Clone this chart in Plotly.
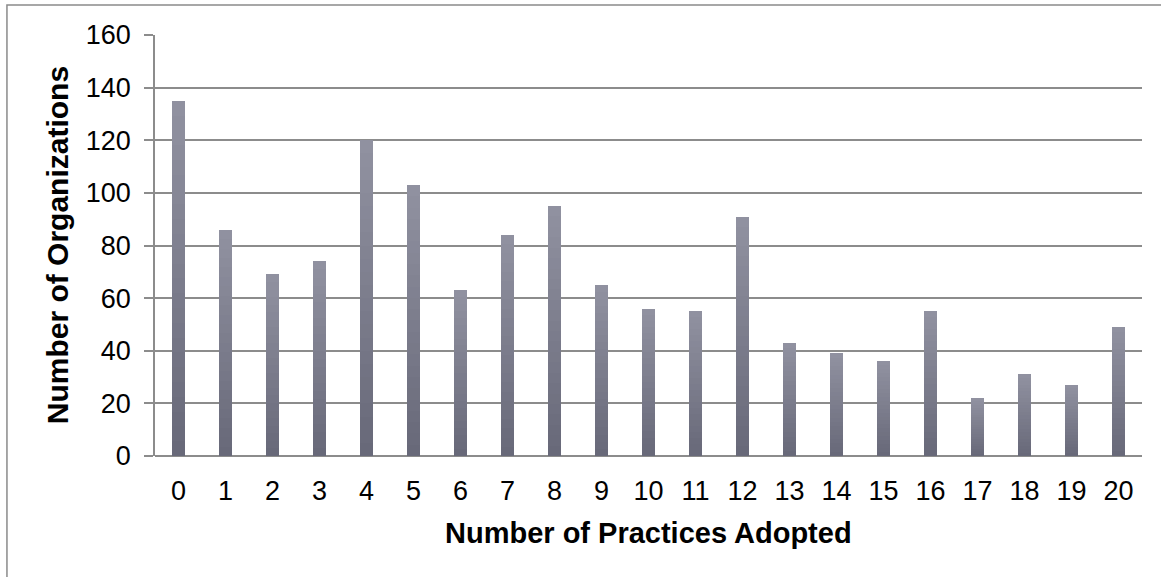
import plotly.graph_objects as go

# Number of practices adopted (0-20) and count of organizations for each
practices = [str(i) for i in range(21)]
organizations = [135, 86, 69, 74, 120, 103, 63, 84, 95, 65, 56, 55, 91, 43, 39, 36, 55, 22, 31, 27, 49]
y_ticks = [0, 20, 40, 60, 80, 100, 120, 140, 160]

title_text = "Figure 3: Organizations by Number of Management Practices Adopted (N=1,398)"

# Vertical shading of each column: stacked slices from dark (base) to light (top)
N_SLICES = 24
dark = (104, 105, 121)
light = (144, 145, 160)

def blend(t):
    return "rgb({},{},{})".format(*[round(d + (l - d) * t) for d, l in zip(dark, light)])

fig = go.Figure()
for k in range(N_SLICES):
    fig.add_trace(go.Bar(
        x=practices,
        y=[v / N_SLICES for v in organizations],
        marker=dict(color=blend(k / (N_SLICES - 1)), line=dict(width=0)),
        showlegend=False,
        hoverinfo="skip",
    ))

grid = "#8c8c8c"
font_family = "Liberation Sans, Arial, sans-serif"

fig.update_layout(
    width=1161,
    height=577,
    barmode="stack",
    bargap=0.72,
    plot_bgcolor="white",
    paper_bgcolor="white",
    margin=dict(l=155, r=19, t=35, b=121),
    font=dict(family=font_family, color="black", size=27),
    xaxis=dict(
        type="category",
        showgrid=False,
        showline=False,
        ticks="",
        tickfont=dict(size=27),
        ticklabelstandoff=16,
    ),
    yaxis=dict(
        range=[0, 160],
        tickvals=y_ticks,
        showgrid=True,
        gridcolor=grid,
        gridwidth=1.8,
        showline=True,
        linecolor=grid,
        linewidth=1.8,
        ticks="outside",
        ticklen=9,
        tickwidth=1.8,
        tickcolor=grid,
        tickfont=dict(size=27),
        ticklabelstandoff=8,
        zeroline=True,
        zerolinecolor=grid,
        zerolinewidth=1.8,
    ),
    annotations=[
        dict(text="<b>Number of Practices Adopted</b>", xref="paper", yref="paper",
             x=0.5, y=-0.183, xanchor="center", yanchor="middle", showarrow=False,
             font=dict(size=29)),
        dict(text="<b>Number of Organizations</b>", xref="paper", yref="paper",
             x=-0.0985, y=0.5, xanchor="center", yanchor="middle", textangle=-90,
             showarrow=False, font=dict(size=30)),
        dict(text="<b>" + title_text + "</b>", xref="paper", yref="paper",
             x=-0.152, y=1.083, xanchor="left", yanchor="bottom", showarrow=False,
             font=dict(size=26)),
    ],
    shapes=[
        dict(type="rect", xref="paper", yref="paper", x0=-0.150, x1=1.2, y0=-0.5, y1=1.071,
             line=dict(color="#8a8a8a", width=1.5), fillcolor="rgba(0,0,0,0)", layer="below"),
    ],
)

fig.write_html("out.html")
